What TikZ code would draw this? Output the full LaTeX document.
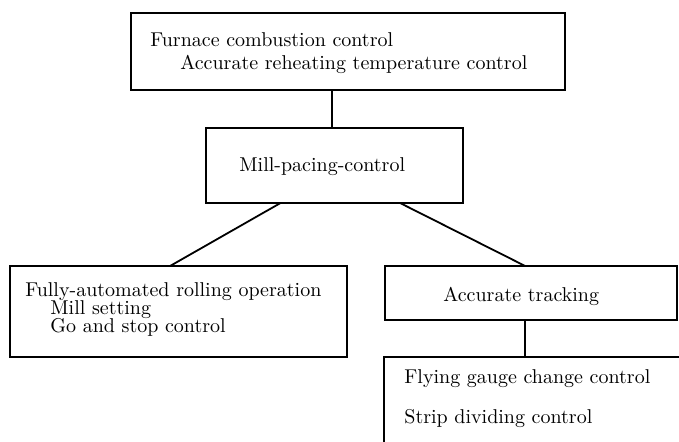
\documentclass[tikz,border=0pt]{standalone}
\usepackage{tikz}
\usetikzlibrary{calc,positioning}
\tikzset{
  box/.style={draw,rectangle,line width=0.9pt,inner sep=0pt,outer sep=0pt,anchor=north west},
  link/.style={line width=0.9pt},
  label/.style={anchor=base west,inner sep=0pt,font=\fontsize{10}{12}\selectfont}
}

\begin{document}
\begin{tikzpicture}[x=0.5pt,y=-0.5pt]
\useasboundingbox (0,0) rectangle (679,442);
\clip (0,0) rectangle (679,442);
% control boxes
\node[box,minimum width=217pt,minimum height=38.5pt] (furnace) at (131,13) {};
\node[box,minimum width=128.5pt,minimum height=37.5pt] (pacing) at (206,128) {};
\node[box,minimum width=168.5pt,minimum height=45.5pt] (rolling) at (10,266) {};
\node[box,minimum width=146pt,minimum height=27pt] (tracking) at (385,266) {};
\node[box,minimum width=160pt,minimum height=55pt] (gauge) at (384,357) {};
% texts
\node[label] (t1) at (150,47) {Furnace combustion control};
\node[label] (t2) at (180,70) {Accurate reheating temperature control};
\node[label] (t3) at (239,172) {Mill-pacing-control};
\node[label] (t4) at (25,297) {Fully-automated rolling operation};
\node[label] (t5) at (50,315) {Mill setting};
\node[label] (t6) at (50,333) {Go and stop control};
\node[label] (t7) at (443,302) {Accurate tracking};
\node[label] (t8) at (404,384) {Flying gauge change control};
\node[label] (t9) at (404,423) {Strip dividing control};
% connectors
\coordinate (feed) at ($(pacing.north west)!0.49!(pacing.north east)$);
\coordinate (drop) at ($(tracking.south west)!0.48!(tracking.south east)$);
\draw[link] (feed) -- (feed |- furnace.south);
\draw[link] ($(pacing.south west)!0.29!(pacing.south east)$) -- ($(rolling.north west)!0.475!(rolling.north east)$);
\draw[link] ($(pacing.south west)!0.755!(pacing.south east)$) -- ($(tracking.north west)!0.48!(tracking.north east)$);
\draw[link] (drop) -- (drop |- gauge.north);
\end{tikzpicture}
\end{document}
